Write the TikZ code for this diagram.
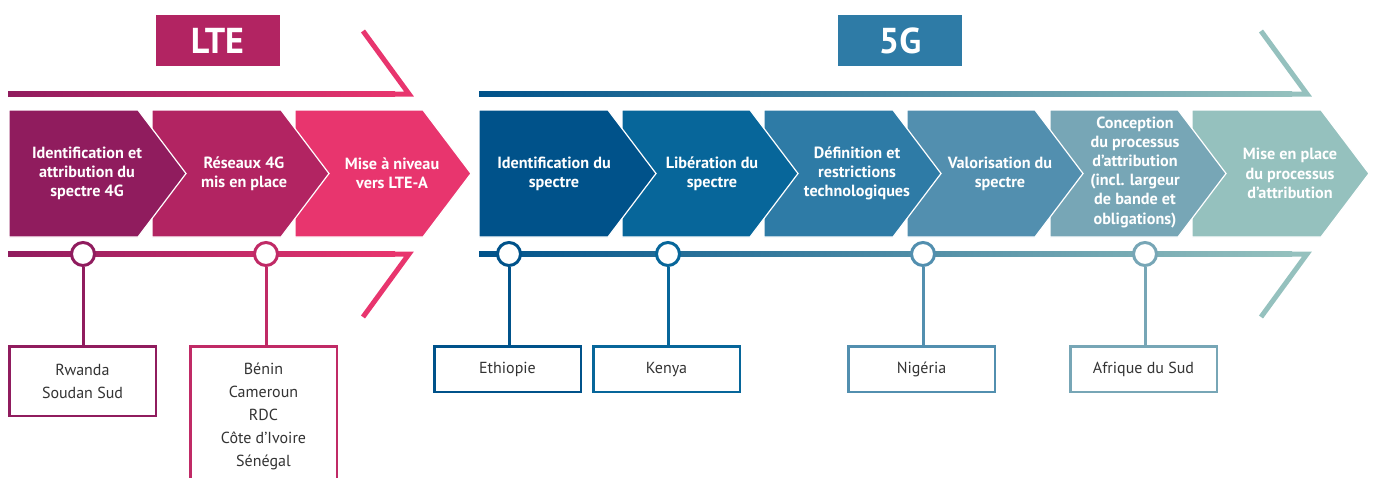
\documentclass[tikz,border=0pt]{standalone}
\usepackage{fontspec}
\setmainfont{PT Sans}
\definecolor{la}{HTML}{901C5E}
\definecolor{lb}{HTML}{B22462}
\definecolor{lc}{HTML}{E8356E}
\definecolor{lbox}{HTML}{C02A66}
\definecolor{ga}{HTML}{00528A}
\definecolor{gb}{HTML}{07669A}
\definecolor{gc}{HTML}{2E7BA6}
\definecolor{gd}{HTML}{528FAF}
\definecolor{ge}{HTML}{77A6B6}
\definecolor{gf}{HTML}{95C1BE}
\definecolor{txtgray}{HTML}{333333}
\newcommand\mychev[3]{\fill[#3, draw=white, line width=1.2] (#1,110) -- (#2,110) -- ({#2+48},173.5) -- (#2,237) -- (#1,237) -- cycle;}
\begin{document}
\begin{tikzpicture}[x=1pt,y=-1pt,
  chevtxt/.style={text=white, align=center, font=\fontsize{16.2}{19.2}\selectfont\bfseries, inner sep=0},
  titlebox/.style={fill=#1, text=white, font=\fontsize{36}{36}\selectfont\bfseries, minimum width=124, minimum height=51, inner sep=0},
  dot/.style={circle, draw=#1, fill=white, line width=3, minimum size=23, inner sep=0},
  cbox/.style={draw=#1, line width=2.5, minimum width=146.5, minimum height=45.5, anchor=north, text=txtgray, align=center, font=\fontsize{16}{23}\selectfont, inner sep=0, fill=white},
  stem/.style={draw=#1, line width=3}]
\useasboundingbox (0,0) rectangle (1375,477);
\clip (0,0) rectangle (1375,477);
% title boxes
\node[titlebox=lb] (lte) at (217.5,40.5) {LTE};
\node[titlebox=gc] (fiveg) at (900,40.5) {5G};
% top lines
\draw[lc, line width=5, miter limit=10] (363,31) -- (409,94) -- (380,94);
\shade[left color=la, right color=lc] (8,91.5) rectangle (395,96.5);
\draw[gf, line width=5, miter limit=10] (1261,31) -- (1307,94) -- (1280,94);
\shade[left color=ga, right color=gf] (479,91.5) rectangle (1292,96.5);
% bottom lines
\draw[lc, line width=5, miter limit=10] (363,317) -- (409,254) -- (380,254);
\shade[left color=la, right color=lc] (8,251.5) rectangle (395,256.5);
\draw[gf, line width=5, miter limit=10] (1261,317) -- (1307,254) -- (1280,254);
\shade[left color=ga, right color=gf] (479,251.5) rectangle (1292,256.5);
% chevrons LTE (right to left)
\mychev{295}{423}{lc}
\mychev{152}{281}{lb}
\mychev{9}{138}{la}
% chevrons 5G
\mychev{1192}{1321}{gf}
\mychev{1050}{1178}{ge}
\mychev{907}{1035}{gd}
\mychev{764}{893}{gc}
\mychev{622}{750}{gb}
\mychev{479}{608}{ga}
% chevron texts
\node[chevtxt] (t1) at (87,173.5) {Identification et\\attribution du\\spectre 4G};
\node[chevtxt] (t2) at (244,173.5) {Réseaux 4G\\mis en place};
\node[chevtxt] (t3) at (392,173.5) {Mise à niveau\\vers LTE-A};
\node[chevtxt] (t4) at (554,173.5) {Identification du\\spectre};
\node[chevtxt] (t5) at (712,173.5) {Libération du\\spectre};
\node[chevtxt] (t6) at (857,173.5) {Définition et\\restrictions\\technologiques};
\node[chevtxt] (t7) at (1000,173.5) {Valorisation du\\spectre};
\node[chevtxt] (t8) at (1135,172) {Conception\\du processus\\d’attribution\\(incl. largeur\\de bande et\\obligations)};
\node[chevtxt] (t9) at (1290,173.5) {Mise en place\\du processus\\d’attribution};
% boxes
\node[cbox=la, minimum height=69.5] (b1) at (82.5,345.25) {Rwanda\\Soudan Sud};
\node[cbox=lbox, minimum height=140] (b2) at (263.5,345.25) {Bénin\\Cameroun\\RDC\\Côte d’Ivoire\\Sénégal};
\node[cbox=ga] (b3) at (507.5,345.25) {Ethiopie};
\node[cbox=gb] (b4) at (666.5,345.25) {Kenya};
\node[cbox=gd] (b5) at (921.5,345.25) {Nigéria};
\node[cbox=ge] (b6) at (1143.5,345.25) {Afrique du Sud};
% circles
\node[dot=la] (d1) at (83,254) {};
\node[dot=lbox] (d2) at (266,254) {};
\node[dot=ga] (d3) at (509,254) {};
\node[dot=gb] (d4) at (668,254) {};
\node[dot=gd] (d5) at (923,254) {};
\node[dot=ge] (d6) at (1145,254) {};
% stems
\draw[stem=la] (d1.south) -- (d1.south |- b1.north);
\draw[stem=lbox] (d2.south) -- (d2.south |- b2.north);
\draw[stem=ga] (d3.south) -- (d3.south |- b3.north);
\draw[stem=gb] (d4.south) -- (d4.south |- b4.north);
\draw[stem=gd] (d5.south) -- (d5.south |- b5.north);
\draw[stem=ge] (d6.south) -- (d6.south |- b6.north);
\end{tikzpicture}
\end{document}
